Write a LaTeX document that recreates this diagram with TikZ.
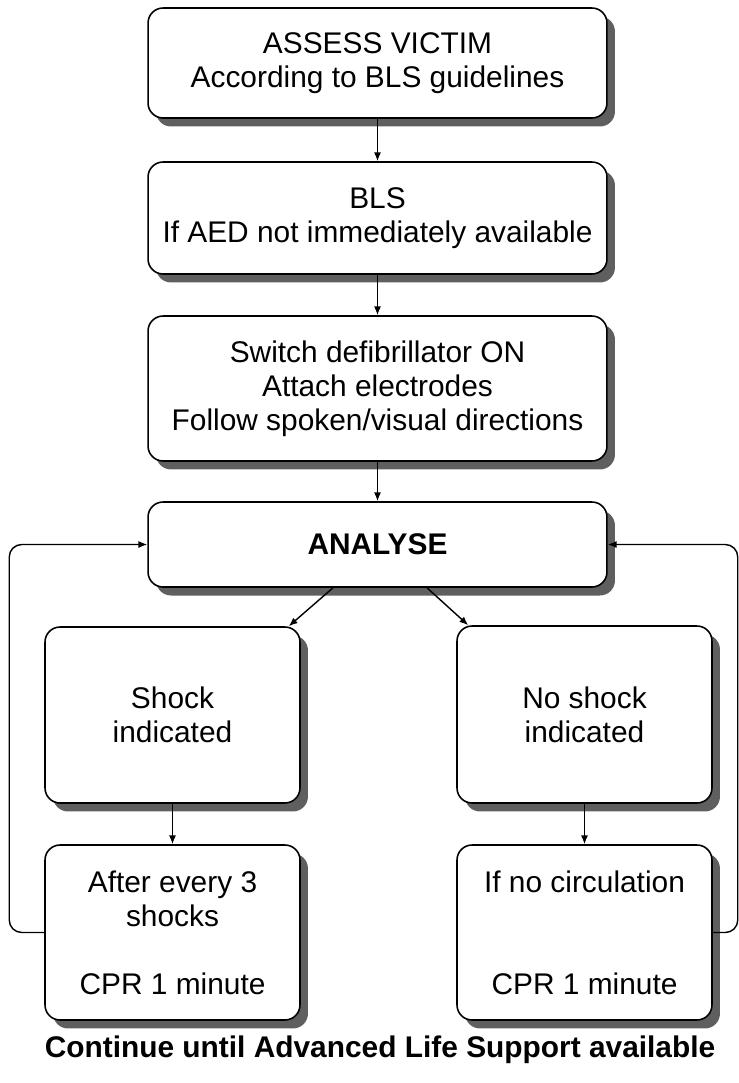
\documentclass[tikz,border=0pt]{standalone}
\usepackage{fontspec}
\setmainfont{Liberation Sans}
\usetikzlibrary{arrows.meta,shadows}
\definecolor{shadowgray}{RGB}{95,95,95}

\begin{document}
\begin{tikzpicture}[x=0.02cm, y=-0.02cm,
    every node/.style={font=\fontsize{17}{19.4}\selectfont, align=center},
    box/.style={draw, line width=0.9pt, rounded corners=0.3cm, fill=white, inner sep=0pt,
      drop shadow={shadow xshift=0.16cm, shadow yshift=-0.17cm, fill=shadowgray, opacity=1, shadow scale=1}},
    flow/.style={-{Latex[length=5pt,width=4pt]}, line width=0.8pt}]
    \useasboundingbox (0,0) rectangle (739,1083);
    % main column
    \node[box, minimum width=9.18cm, minimum height=2.2cm] (assess) at (377.5,63) {ASSESS VICTIM\\According to BLS guidelines};
    \node[box, minimum width=9.18cm, minimum height=2.24cm] (bls) at (377.5,218) {BLS\\If AED not immediately available};
    \node[box, minimum width=9.18cm, minimum height=2.9cm] (switch) at (377.5,388.5) {Switch defibrillator ON\\Attach electrodes\\Follow spoken/visual directions};
    \node[box, minimum width=9.18cm, minimum height=1.7cm] (analyse) at (377.5,544.5) {\bfseries ANALYSE};
    % the two branches
    \node[box, minimum width=5.1cm, minimum height=3.52cm] (shock) at (172.5,715) {Shock\\indicated};
    \node[box, minimum width=5.1cm, minimum height=3.5cm] (after) at (172.5,932.5) {After every 3\\shocks\\[19.4pt]CPR 1 minute};
    \node[box, minimum width=5.1cm, minimum height=3.54cm] (noshock) at (584.5,714.5) {No shock\\indicated};
    \node[box, minimum width=5.1cm, minimum height=3.5cm] (nocirc) at (584.5,932.5) {If no circulation\\[38.8pt]CPR 1 minute};
    \node[font=\fontsize{17}{19.4}\selectfont\bfseries] (until) at (380,1050) {Continue until Advanced Life Support available};
    \draw[flow] (assess) -- (bls);
    \draw[flow] (bls) -- (switch);
    \draw[flow] (switch) -- (analyse);
    \draw[flow] ([xshift=-0.89cm]analyse.south) -- ([xshift=-0.24cm]shock.north east);
    \draw[flow] ([xshift=0.99cm]analyse.south) -- ([xshift=0.24cm]noshock.north west);
    \draw[flow] (shock) -- (after);
    \draw[flow] (noshock) -- (nocirc);
    % loops back to analyse
    \draw[flow, rounded corners=0.25cm] (after.west) -- ++(-35,0) |- (analyse.west);
    \draw[flow, rounded corners=0.25cm] (nocirc.east) -- ++(25,0) |- (analyse.east);
\end{tikzpicture}
\end{document}
